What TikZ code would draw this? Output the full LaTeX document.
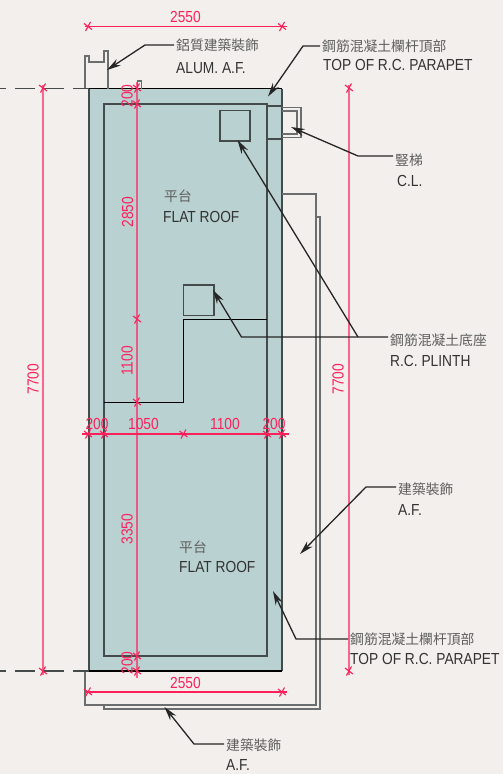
\documentclass[tikz,border=0pt]{standalone}
\usepackage{fontspec}
\setmainfont[FakeStretch=0.86]{Liberation Sans}
\newfontfamily\cjk{Noto Sans CJK TC}
\usetikzlibrary{arrows.meta}
\definecolor{paper}{HTML}{F2EFEC}
\definecolor{roof}{HTML}{BAD1D1}
\definecolor{wall}{HTML}{454A4A}
\definecolor{dimred}{HTML}{FF1F5A}
\definecolor{zhgrey}{HTML}{5E5E5E}
\tikzset{
    wallline/.style={draw=wall,line width=1.5pt},
    afline/.style={draw=wall!80,line width=1.2pt},
    dimline/.style={draw=dimred,line width=1.3pt},
    dimlong/.style={draw=dimred,line width=1.6pt,opacity=.65},
    dimtext/.style={text=dimred,font=\fontsize{16}{16}\selectfont,inner sep=0pt},
    leader/.style={draw=black!85,line width=1.3pt,-{Stealth[length=14pt,width=7.5pt]}},
    zhtext/.style={text=zhgrey,font=\cjk\fontsize{13.8}{14}\selectfont,anchor=west,inner sep=2pt},
    entext/.style={text=black!80,font=\fontsize{16}{16}\selectfont,anchor=west,inner sep=0pt},
}
\newcommand{\dimtick}[2]{\draw[dimline,line width=1.1pt] (#1,#2) +(-4,-3)--+(4,3) +(-2.5,4.5)--+(2.5,-4.5);}
\begin{document}
\begin{tikzpicture}[x=1pt,y=-1pt]
    \fill[paper] (0,0) rectangle (503,774);
    \useasboundingbox (0,0) rectangle (503,774);
    % roof slab
    \fill[roof] (89,88.5) rectangle (282,671);
    \draw[wallline] (89,671)--(89,88.5) (282,88.5)--(282,671);
    \draw[draw=black,line width=1.5pt] (85,88.5)--(282,88.5) (89,671)--(282,671);
    \draw[wallline] (104,104) rectangle (267,656);
    \draw[draw=black,line width=1.5pt] (104,402.5)--(183.5,402.5)--(183.5,319.5)--(267,319.5);
    \draw[wallline] (220,110.5) rectangle (250,141);
    \draw[wallline] (183.5,285) rectangle (214,315.5);
    \draw[wallline] (267,106)--(282,106) (267,139)--(282,139);
    % cat ladder
    \draw[afline] (282,107.5)--(301,107.5)--(301,137.5)--(282,137.5);
    \draw[afline] (282,111)--(297,111)--(297,134)--(282,134);
    % architectural features
    \draw[afline] (85,88.5)--(85,56)--(89,56)--(89,62)--(104,62)--(104,51)--(108,51)--(108,88.5);
    \draw[afline] (137.5,88.5)--(137.5,81)--(141.5,81)--(141.5,88.5);
    \draw[afline] (282,194)--(316,194)--(316,705)--(85,705)--(85,671);
    \draw[afline] (316,217)--(320,217)--(320,709)--(104,709)--(104,705);
    % datum lines
    \foreach \y in {88.5,671}{
    \draw[wall,line width=1.3pt,dash pattern=on 20pt off 9pt,dash phase=14pt] (0,\y)--(89,\y);
    }
    % dimensions
    \draw[dimline] (85,26.5)--(287,26.5);
    \draw[dimline] (85,692)--(287,692);
    \draw[dimline] (82,434)--(289,434);
    \draw[dimlong] (43,85)--(43,675);
    \draw[dimlong] (349,85)--(349,675);
    \draw[dimlong] (137,82)--(137,678);
    \foreach \x in {88,282}{
    \dimtick{\x}{26.5}
    \dimtick{\x}{692}
    }
    \foreach \x in {88,104,183.5,267,282}{\dimtick{\x}{434}}
    \foreach \y in {88,104,319,402,656,671}{\dimtick{137}{\y}}
    \foreach \x in {43,349}{
    \dimtick{\x}{88}
    \dimtick{\x}{671}
    }
    \foreach \x/\y/\t/\n in {185.5/17/2550/top,185.5/683/2550/bot,97/424/200/a,143.5/424/1050/b,225/424/1100/c,274/424/200/d}{
    \node[dimtext] (w\n) at (\x,\y) {\t};
    }
    \foreach \x/\y/\t/\n in {127/96/200/a,127.5/212/2850/b,127/361/1100/c,127/529/3350/d,127/663/200/e,33/379/7700/f,338/379/7700/g}{
    \node[dimtext,rotate=90] (h\n) at (\x,\y) {\t};
    }
    % flat roof labels
    \node[zhtext,inner sep=0pt] (roofzha) at (164,196) {平台};
    \node[entext] (roofena) at (163,216.5) {FLAT ROOF};
    \node[zhtext,inner sep=0pt] (roofzhb) at (179,547) {平台};
    \node[entext] (roofenb) at (179,567) {FLAT ROOF};
    % leaders
    \node[zhtext] (alumzh) at (174,45) {鋁質建築裝飾};
    \node[entext] (alumen) at (176,68) {ALUM. A.F.};
    \node[zhtext] (topazh) at (320,46) {鋼筋混凝土欄杆頂部};
    \node[entext] (topaen) at (323,65) {TOP OF R.C. PARAPET};
    \node[zhtext] (clzh) at (393,160) {豎梯};
    \node[entext] (clen) at (397,181) {C.L.};
    \node[zhtext] (plinthzh) at (388,340) {鋼筋混凝土底座};
    \node[entext] (plinthen) at (390,361) {R.C. PLINTH};
    \node[zhtext] (afazh) at (396,489) {建築裝飾};
    \node[entext] (afaen) at (398,510) {A.F.};
    \node[zhtext] (topbzh) at (348,639) {鋼筋混凝土欄杆頂部};
    \node[entext] (topben) at (350,659) {TOP OF R.C. PARAPET};
    \node[zhtext] (afbzh) at (224,745) {建築裝飾};
    \node[entext] (afben) at (226,765) {A.F.};
    \foreach \n/\x/\y in {alumbend/145/45,alumtip/107/70,topabend/303/46,topatip/268/96.5,clbend/358/156,cltip/291/127,plinthbend/241.5/337,plinthtipa/213/290,plinthtipb/237.5/140,plinthjoin/358/337,afabend/366/487,afatip/300/554,topbbend/296/639,topbtip/273/591,afbbend/194/744,afbtip/164.5/707}{
    \coordinate (\n) at (\x,\y);
    }
    \draw[leader] (alumzh.west)--(alumbend)--(alumtip);
    \draw[leader] (topazh.west)--(topabend)--(topatip);
    \draw[leader] (clzh.west|-clbend)--(clbend)--(cltip);
    \draw[leader] (plinthzh.west|-plinthbend)--(plinthbend)--(plinthtipa);
    \draw[leader] (plinthjoin)--(plinthtipb);
    \draw[leader] (afazh.west|-afabend)--(afabend)--(afatip);
    \draw[leader] (topbzh.west)--(topbbend)--(topbtip);
    \draw[leader] (afbzh.west|-afbbend)--(afbbend)--(afbtip);
\end{tikzpicture}
\end{document}
